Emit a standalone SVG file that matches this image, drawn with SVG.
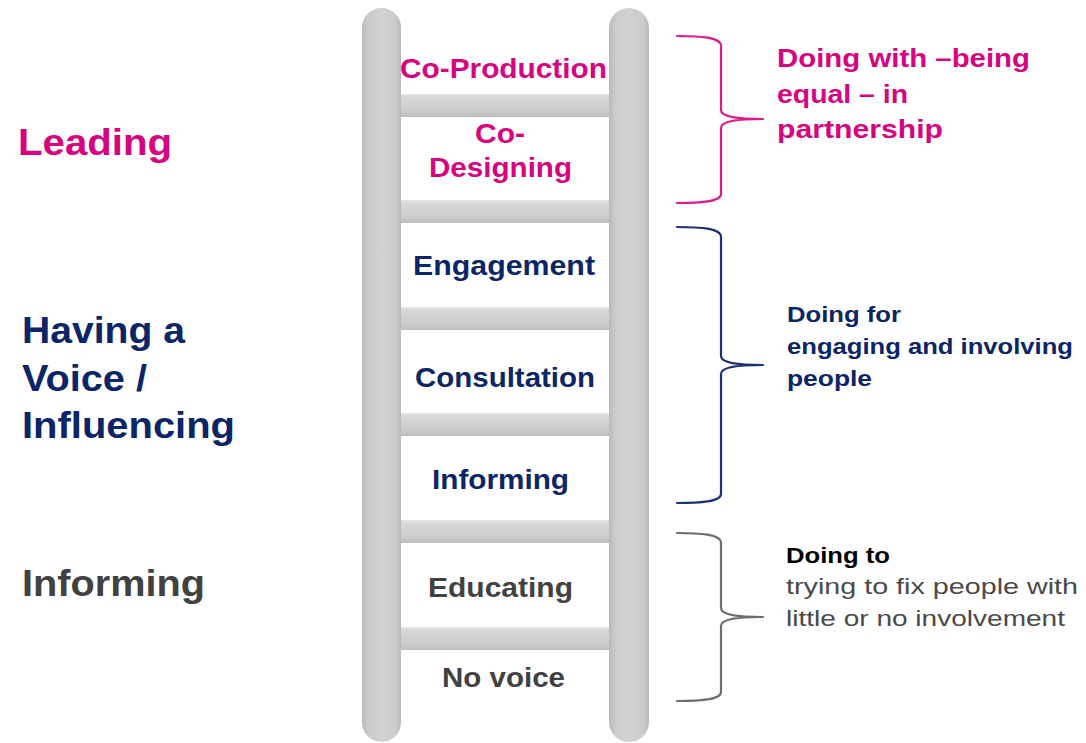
<svg xmlns="http://www.w3.org/2000/svg" width="1086" height="743" viewBox="0 0 1086 743">
  <style>
    text { font-family: "Liberation Sans", Arial, sans-serif; }
    .b { font-weight: bold; }
    .pink { fill: #d6047f; }
    .navy { fill: #0c2566; }
    .dark { fill: #414141; }
    .black { fill: #000000; }
    .grey { fill: #4a4a4a; }
    .step { font-size: 28px; font-weight: bold; text-anchor: middle; }
    .cat { font-size: 37px; font-weight: bold; }
    .brace { fill: none; stroke-width: 2.2; stroke-linecap: round; stroke-linejoin: round; }
  </style>
  <defs>
    <linearGradient id="railGrad" x1="0" y1="0" x2="1" y2="0">
      <stop offset="0" stop-color="#b9b9bc"/>
      <stop offset="0.15" stop-color="#cbcbcd"/>
      <stop offset="0.5" stop-color="#d3d3d5"/>
      <stop offset="0.85" stop-color="#cbcbcd"/>
      <stop offset="1" stop-color="#b9b9bc"/>
    </linearGradient>
    <linearGradient id="rungGrad" x1="0" y1="0" x2="0" y2="1">
      <stop offset="0" stop-color="#e4e4e5"/>
      <stop offset="0.2" stop-color="#d6d6d8"/>
      <stop offset="0.7" stop-color="#cdcdcf"/>
      <stop offset="1" stop-color="#bdbdbf"/>
    </linearGradient>
  </defs>
  <rect width="1086" height="743" fill="#ffffff"/>

  <!-- ladder frame -->
  <g id="ladder">
    <rect x="362" y="8" width="39" height="734" rx="19.5" fill="url(#railGrad)"/>
    <rect x="609" y="8" width="40" height="734" rx="20" fill="url(#railGrad)"/>
    <g fill="url(#rungGrad)">
      <rect x="401" y="94" width="208" height="23"/>
      <rect x="401" y="200" width="208" height="23"/>
      <rect x="401" y="307" width="208" height="23"/>
      <rect x="401" y="413" width="208" height="23"/>
      <rect x="401" y="520" width="208" height="23"/>
      <rect x="401" y="627" width="208" height="23"/>
    </g>
  </g>

  <!-- ladder steps -->
  <g id="step-coproduction"><text class="step pink" x="503.5" y="78" textLength="207" lengthAdjust="spacingAndGlyphs">Co-Production</text></g>
  <g id="step-codesigning">
    <text class="step pink" x="500" y="143" textLength="50" lengthAdjust="spacingAndGlyphs">Co-</text>
    <text class="step pink" x="500.5" y="177" textLength="143" lengthAdjust="spacingAndGlyphs">Designing</text>
  </g>
  <g id="step-engagement"><text class="step navy" x="504" y="275" textLength="182" lengthAdjust="spacingAndGlyphs">Engagement</text></g>
  <g id="step-consultation"><text class="step navy" x="505" y="387" textLength="180" lengthAdjust="spacingAndGlyphs">Consultation</text></g>
  <g id="step-informing"><text class="step navy" x="500.5" y="489" textLength="137" lengthAdjust="spacingAndGlyphs">Informing</text></g>
  <g id="step-educating"><text class="step dark" x="500.5" y="597" textLength="145" lengthAdjust="spacingAndGlyphs">Educating</text></g>
  <g id="step-novoice"><text class="step dark" x="503.5" y="687" textLength="123" lengthAdjust="spacingAndGlyphs">No voice</text></g>

  <!-- categories on the left -->
  <g id="cat-leading"><text class="cat pink" x="18" y="155" textLength="154" lengthAdjust="spacingAndGlyphs">Leading</text></g>
  <g id="cat-voice">
    <text class="cat navy" x="22" y="343" textLength="163" lengthAdjust="spacingAndGlyphs">Having a</text>
    <text class="cat navy" x="22" y="391" textLength="125" lengthAdjust="spacingAndGlyphs">Voice /</text>
    <text class="cat navy" x="22" y="438" textLength="213" lengthAdjust="spacingAndGlyphs">Influencing</text>
  </g>
  <g id="cat-informing"><text class="cat dark" x="22" y="596" textLength="183" lengthAdjust="spacingAndGlyphs">Informing</text></g>

  <!-- braces grouping the steps -->
  <g id="connectors">
    <path class="brace" stroke="#dc1a88" d="M677,36 C700,36 721,37 721,46 L721,110 C721,117 738,119 763,119 C738,119 721,121 721,128 L721,194 C721,202 700,203 677,203"/>
    <path class="brace" stroke="#1a3272" d="M677,227 C700,227 721,228 721,237 L721,356 C721,363 738,365 763,365 C738,365 721,367 721,374 L721,494 C721,502 700,503 677,503"/>
    <path class="brace" stroke="#6e6e6e" d="M677,533 C700,533 721,534 721,543 L721,608 C721,615 738,617 763,617 C738,617 721,619 721,626 L721,692 C721,700 700,701 677,701"/>
  </g>

  <!-- descriptions on the right -->
  <g id="desc-with">
    <text class="b pink" font-size="26" x="777" y="67" textLength="253" lengthAdjust="spacingAndGlyphs">Doing with –being</text>
    <text class="b pink" font-size="26" x="777" y="103" textLength="131" lengthAdjust="spacingAndGlyphs">equal – in</text>
    <text class="b pink" font-size="26" x="777" y="138" textLength="166" lengthAdjust="spacingAndGlyphs">partnership</text>
  </g>
  <g id="desc-for">
    <text class="b navy" font-size="22" x="787" y="322" textLength="114" lengthAdjust="spacingAndGlyphs">Doing for</text>
    <text class="navy" font-size="22" x="787" y="354" textLength="286" lengthAdjust="spacingAndGlyphs" style="font-weight:600">engaging and involving</text>
    <text class="navy" font-size="22" x="787" y="386" textLength="85" lengthAdjust="spacingAndGlyphs" style="font-weight:600">people</text>
  </g>
  <g id="desc-to">
    <text class="b black" font-size="22" x="786" y="563" textLength="104" lengthAdjust="spacingAndGlyphs">Doing to</text>
    <text class="grey" font-size="22" x="786" y="594" textLength="292" lengthAdjust="spacingAndGlyphs">trying to fix people with</text>
    <text class="grey" font-size="22" x="786" y="626" textLength="279" lengthAdjust="spacingAndGlyphs">little or no involvement</text>
  </g>
</svg>
